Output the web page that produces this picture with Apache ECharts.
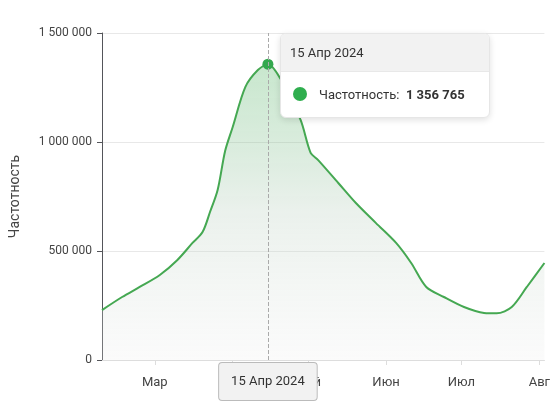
<!DOCTYPE html>
<html>
<head>
<meta charset="utf-8">
<script src="https://cdn.jsdelivr.net/npm/echarts@6/dist/echarts.min.js"></script>
<style>html,body{margin:0;padding:0;background:#fff}#main{width:553px;height:415px}</style>
</head>
<body>
<div id="main"></div>
<script>
// даты и значения частотности
var dates = ['2024-02-09','2024-02-17','2024-02-24','2024-03-03','2024-03-10','2024-03-16','2024-03-20',
	'2024-03-23','2024-03-26','2024-03-29','2024-04-01','2024-04-06','2024-04-11','2024-04-15','2024-04-20',
	'2024-04-28','2024-05-02','2024-05-05','2024-05-13','2024-05-20','2024-05-28','2024-06-05','2024-06-11',
	'2024-06-17','2024-06-24','2024-07-02','2024-07-10','2024-07-15','2024-07-21','2024-07-27','2024-08-03'];
var values = [229000,289000,335000,390000,459000,537000,587000,
	680000,780000,960000,1069000,1252000,1330000,1356765,1290000,
	1101000,950000,917000,812000,720000,628000,537000,445000,
	335000,289000,243000,216000,214000,243000,335000,445000];
var monthTicks = ['2024-03-01','2024-04-01','2024-05-01','2024-06-01','2024-07-01','2024-08-01'];
var ruMonths = ['Янв','Фев','Мар','Апр','Май','Июн','Июл','Авг','Сен','Окт','Ноя','Дек'];
var peak = 13;

function ts(s){ return new Date(s + 'T00:00:00Z').getTime(); }
function fmt(n){ return String(n).replace(/\B(?=(\d{3})+(?!\d))/g, ' '); }
function fmtDate(s){ var d = new Date(s + 'T00:00:00Z'); return d.getUTCDate() + ' ' + ruMonths[d.getUTCMonth()] + ' ' + d.getUTCFullYear(); }

var data = dates.map(function(d, i){
	var item = {value: [ts(d), values[i]]};
	if (i == peak) { item.symbol = 'circle'; item.symbolSize = 11; }
	return item;
});
var tickVals = monthTicks.map(ts);

var chart = echarts.init(document.getElementById('main'));
chart.setOption({
	animation: false,
	textStyle: {fontFamily: 'Roboto, sans-serif'},
	grid: {left: 95, right: 0, top: 33, bottom: 55},
	tooltip: {
		trigger: 'item',
		alwaysShowContent: true,
		position: [280, 33],
		padding: 0,
		borderColor: '#e6e6e6',
		backgroundColor: '#fff',
		extraCssText: 'box-shadow:0 2px 6px rgba(0,0,0,0.12);border-radius:6px;overflow:hidden;',
		formatter: function(p){
			return '<div style="width:208px;font-family:Roboto,sans-serif;color:#333">' +
				'<div style="background:#f2f2f2;padding:8px 9px;font-size:13px;border-bottom:1px solid #e8e8e8">' + fmtDate(dates[p.dataIndex]) + '</div>' +
				'<div style="padding:12px 12px;font-size:13px"><span style="display:inline-block;width:14px;height:14px;border-radius:50%;background:#2fae4e;vertical-align:-2px;margin-right:12px"></span>' +
				'Частотность:&nbsp; <b>' + fmt(values[p.dataIndex]) + '</b></div></div>';
		}
	},
	xAxis: {
		type: 'value',
		min: ts('2024-02-09'),
		max: ts('2024-08-03'),
		axisLine: {lineStyle: {color: '#ddd'}},
		axisTick: {show: true, customValues: tickVals, lineStyle: {color: '#ddd'}},
		axisLabel: {
			customValues: tickVals,
			formatter: function(v){ return ruMonths[new Date(v).getUTCMonth()]; },
			color: '#444', fontSize: 13, margin: 16
		},
		splitLine: {show: false},
		axisPointer: {
			show: true, value: ts(dates[peak]), status: 'show', type: 'line',
			lineStyle: {color: '#aaa', type: 'dashed', width: 1},
			label: {
				show: true, formatter: function(){ return fmtDate(dates[peak]); },
				backgroundColor: '#f2f2f2', borderColor: '#bbb', borderWidth: 1,
				color: '#333', fontSize: 13, padding: [12, 12], margin: 3
			}
		}
	},
	yAxis: {
		type: 'value',
		min: 0, max: 1500000, interval: 500000,
		name: 'Частотность', nameLocation: 'middle', nameGap: 80, nameRotate: 90,
		nameTextStyle: {color: '#444', fontSize: 14},
		axisLabel: {color: '#444', fontSize: 12, margin: 10, formatter: fmt},
		splitLine: {lineStyle: {color: '#e8e8e8'}}
	},
	series: [{
		type: 'line',
		smooth: 0.3,
		symbol: 'none',
		data: data,
		itemStyle: {color: '#33a84e'},
		lineStyle: {color: '#45a852', width: 2},
		areaStyle: {
			color: new echarts.graphic.LinearGradient(0, 0, 0, 1, [
				{offset: 0, color: 'rgba(60,170,80,0.4)'},
				{offset: 0.5, color: 'rgba(190,210,195,0.45)'},
				{offset: 1, color: 'rgba(235,235,235,0.3)'}
			])
		}
	}]
});
chart.dispatchAction({type: 'showTip', seriesIndex: 0, dataIndex: peak});
</script>
</body>
</html>
